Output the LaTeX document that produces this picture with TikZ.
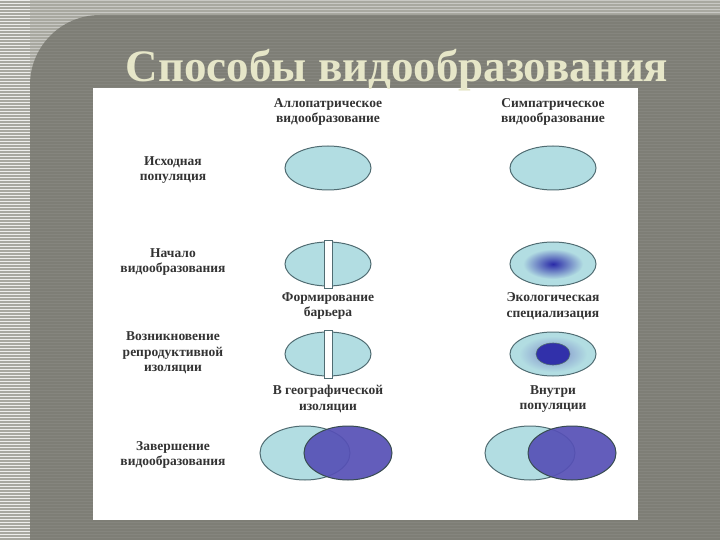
\documentclass[tikz,border=0pt]{standalone}
\usepackage{fontspec}
\setmainfont{Liberation Serif}
\definecolor{bgstripe}{HTML}{A8A8A0}
\definecolor{panel}{HTML}{7E7E76}
\definecolor{titlec}{HTML}{E6E6C8}
\definecolor{light}{HTML}{B2DDE2}
\definecolor{dark}{HTML}{5650B6}
\definecolor{edge}{HTML}{506C72}
\definecolor{gcenter}{HTML}{2A2AA8}
\begin{document}
\begin{tikzpicture}[x=1pt,y=-1pt,
  lbl/.style={align=center,font=\fontsize{13.5}{15.5}\selectfont\bfseries,text=black!80},
  pop/.style={draw=edge,line width=1pt,fill=light},
  popd/.style={draw=edge!70!black,line width=1pt,fill=dark,fill opacity=0.92}]
\useasboundingbox (0,0) rectangle (720,540);
\fill[bgstripe] (0,0) rectangle (720,540);
\foreach \i in {0,3,...,540} \draw[white!80!bgstripe,line width=0.8pt] (0,\i) -- (720,\i);
\fill[panel] (30,540) -- (30,85) arc[start angle=180,end angle=270,radius=70] -- (720,15) -- (720,540) -- cycle;
\foreach \i in {0,3,...,540} \draw[panel!85!white,line width=0.5pt,opacity=0.4] (30,\i) -- (720,\i);
\fill[white] (93,88) rectangle (638,520);
\node[text=titlec,font=\fontsize{45}{47}\selectfont\bfseries] (title) at (397,70) {Способы видообразования};
\node[lbl] (h1) at (328,112) {Аллопатрическое\\видообразование};
\node[lbl] (h2) at (553,112) {Симпатрическое\\видообразование};
\node[lbl] (r1) at (173,170) {Исходная\\популяция};
\node[lbl] (r2) at (173,262) {Начало\\видообразования};
\node[lbl] (r3) at (173,353) {Возникновение\\репродуктивной\\изоляции};
\node[lbl] (r4) at (173,455) {Завершение\\видообразования};
% row 1
\draw[pop] (328,168) ellipse[x radius=43,y radius=22];
\draw[pop] (553,168) ellipse[x radius=43,y radius=22];
% row 2
\draw[pop] (328,264) ellipse[x radius=43,y radius=22];
\draw[edge,fill=white,line width=0.8pt] (324,240) rectangle (332,288);
\draw[pop] (553,264) ellipse[x radius=43,y radius=22];
\shade[inner color=gcenter,outer color=light] (553,264) ellipse[x radius=30,y radius=15];
\node[lbl] (l1) at (328,306) {Формирование\\барьера};
\node[lbl] (l2) at (553,306) {Экологическая\\специализация};
% row 3
\draw[pop] (328,354) ellipse[x radius=43,y radius=22];
\draw[edge,fill=white,line width=0.8pt] (324,330) rectangle (332,378);
\draw[pop] (553,354) ellipse[x radius=43,y radius=22];
\shade[inner color=dark!60!light,outer color=light] (553,354) ellipse[x radius=34,y radius=18];
\draw[edge,fill=gcenter!85!dark,line width=0.6pt] (553,354) ellipse[x radius=17,y radius=11];
\node[lbl] (l3) at (328,399) {В географической\\изоляции};
\node[lbl] (l4) at (553,399) {Внутри\\популяции};
% row 4
\draw[pop] (305,453) ellipse[x radius=45,y radius=27];
\draw[popd] (348,453) ellipse[x radius=44,y radius=27];
\draw[pop] (530,453) ellipse[x radius=45,y radius=27];
\draw[popd] (572,453) ellipse[x radius=44,y radius=27];
\end{tikzpicture}
\end{document}
